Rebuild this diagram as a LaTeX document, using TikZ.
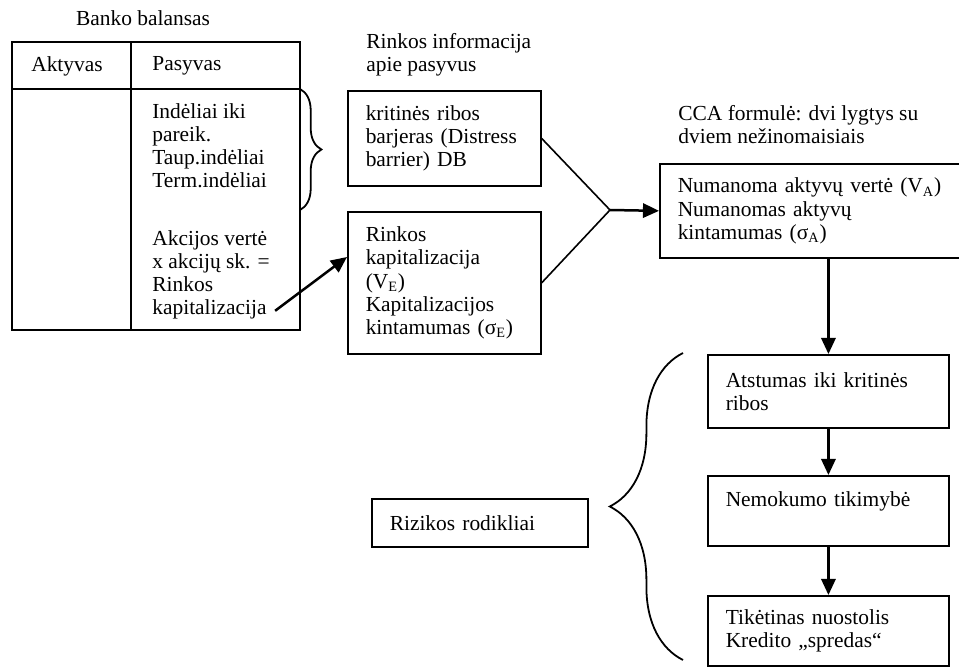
\documentclass[tikz,border=0pt]{standalone}
\usepackage{fontspec}
\setmainfont{Liberation Serif}
\usetikzlibrary{arrows.meta,decorations.pathreplacing,calc}
\begin{document}
\begin{tikzpicture}[x=0.56pt,y=-0.56pt,
  font=\fontsize{12pt}{13pt}\selectfont,
  bx/.style={draw, line width=1pt, anchor=north west, align=left, inner xsep=10pt, inner ysep=0pt},
  txt/.style={anchor=north west, align=left, inner sep=0pt},
  arr/.style={line width=1.4pt, -{Triangle[length=9pt,width=8pt]}},
  brc/.style={line width=1pt, decorate, decoration={brace, amplitude=#1}}]
\useasboundingbox (0,0) rectangle (959,667);
\node (bank) at (143,18) {Banko balansas};
\draw[line width=1.1pt] (12,42) rectangle (300,330);
\draw[line width=1.1pt] (131,42) -- (131,330) (12,89) -- (300,89);
\node (akt) at (67,66) {Aktyvas};
\node[anchor=west, inner sep=0pt] (pas) at (152,66) {Pasyvas};
\node[txt] (ind) at (152,103) {Indėliai iki\\pareik.\\Taup.indėliai\\Term.indėliai};
\node[txt] (akc) at (152,230) {Akcijos vertė\\x akcijų sk. =\\Rinkos\\kapitalizacija};
\draw[brc=12pt] (300,89) -- (300,210);
\node[txt] (info) at (366,33) {Rinkos informacija\\apie pasyvus};
\node[bx, text width=88pt, minimum height=53.2pt] (db) at (347,90) {kritinės ribos\\barjeras (Distress\\barrier) DB};
\node[bx, text width=88pt, minimum height=79.5pt] (ve) at (347,211) {Rinkos\\kapitalizacija\\(V\textsubscript{E})\\Kapitalizacijos\\kintamumas (σ\textsubscript{E})};
\draw[arr] ([shift={(5,-9)}]akc.south east) -- ($(ve.north west)!0.32!(ve.south west)$);
\coordinate (join) at (610,210);
\draw[line width=0.9pt] (db.east) -- (join) -- (ve.east);
\node[txt] (ccat) at (678,105) {CCA formulė: dvi lygtys su\\dviem nežinomaisiais};
\node[bx, text width=150pt, minimum height=52.6pt] (cca) at (659,163) {Numanoma aktyvų vertė (V\textsubscript{A})\\Numanomas aktyvų\\kintamumas (σ\textsubscript{A})};
\draw[arr] (join) -- (cca.west);
\node[bx, text width=115pt, minimum height=40.9pt] (dist) at (707,354) {Atstumas iki kritinės\\ribos};
\node[bx, text width=115pt, minimum height=39.2pt] (pd) at (707,475) {Nemokumo tikimybė\\~};
\node[bx, text width=115pt, minimum height=39.2pt] (el) at (707,595) {Tikėtinas nuostolis\\Kredito „spredas“};
\draw[arr] (dist.north |- cca.south) -- (dist.north);
\draw[arr] (dist) -- (pd);
\draw[arr] (pd) -- (el);
\node[bx, text width=101pt, minimum height=26.9pt] (risk) at (371,498) {Rizikos rodikliai};
\draw[brc=41pt] (683,660) -- (683,353);
\end{tikzpicture}
\end{document}
